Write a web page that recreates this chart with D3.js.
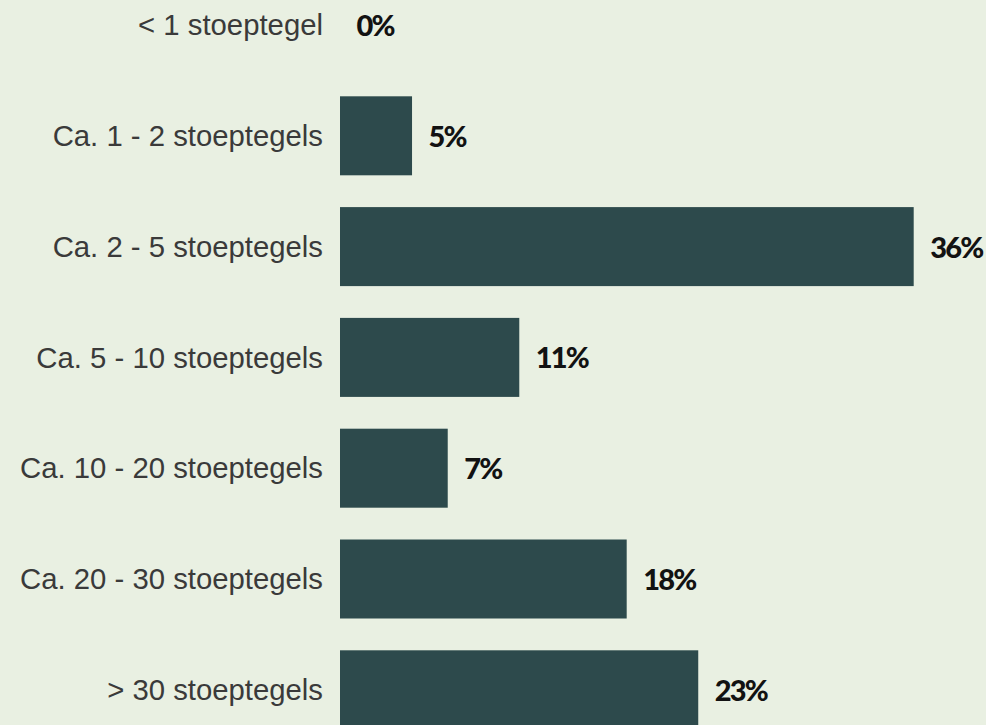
<!DOCTYPE html>
<html>
<head>
<meta charset="utf-8">
<script src="https://cdn.jsdelivr.net/npm/d3@7"></script>
<style>
  html, body { margin: 0; padding: 0; background: #e9f0e2; overflow: hidden; }
  svg { display: block; }
</style>
</head>
<body>
<script>
const categories = [
  "< 1 stoeptegel",
  "Ca. 1 - 2 stoeptegels",
  "Ca. 2 - 5 stoeptegels",
  "Ca. 5 - 10 stoeptegels",
  "Ca. 10 - 20 stoeptegels",
  "Ca. 20 - 30 stoeptegels",
  "> 30 stoeptegels"
];
const values = [0, 4.52, 36, 11.25, 6.76, 17.99, 22.48];
const valueLabels = ["0%", "5%", "36%", "11%", "7%", "18%", "23%"];

const W = 986, H = 725;
const svg = d3.select("body").append("svg").attr("width", W).attr("height", H);
svg.append("rect").attr("width", W).attr("height", H).attr("fill", "#e9f0e2");

const x = d3.scaleLinear().domain([0, 36]).range([340, 913.7]);
const step = 110.8;
const y = d3.scaleBand().domain(categories)
  .range([25 - step / 2, 25 - step / 2 + categories.length * step])
  .paddingInner(0.287).paddingOuter(0.1435);

const data = categories.map((c, i) => ({ c, v: values[i], l: valueLabels[i] }));

svg.append("g").selectAll("rect").data(data).join("rect")
  .attr("x", x(0))
  .attr("y", d => y(d.c))
  .attr("width", d => x(d.v) - x(0))
  .attr("height", y.bandwidth())
  .attr("fill", "#2d4a4c");

svg.append("g").selectAll("text").data(data).join("text")
  .attr("x", 323)
  .attr("y", d => y(d.c) + y.bandwidth() / 2)
  .attr("dy", "0.35em")
  .attr("text-anchor", "end")
  .attr("font-family", "'Liberation Sans', Arial, sans-serif")
  .attr("font-size", 29.3)
  .attr("fill", "#3a3a3a")
  .text(d => d.c);

svg.append("g").selectAll("text").data(data).join("text")
  .attr("x", d => x(d.v) + 16.5)
  .attr("y", d => y(d.c) + y.bandwidth() / 2)
  .attr("dy", "0.38em")
  .attr("font-family", "Lato, 'Noto Sans', sans-serif")
  .attr("font-weight", 900)
  .attr("font-size", 29)
  .attr("letter-spacing", -1.8)
  .attr("fill", "#121212")
  .text(d => d.l);
</script>
</body>
</html>
